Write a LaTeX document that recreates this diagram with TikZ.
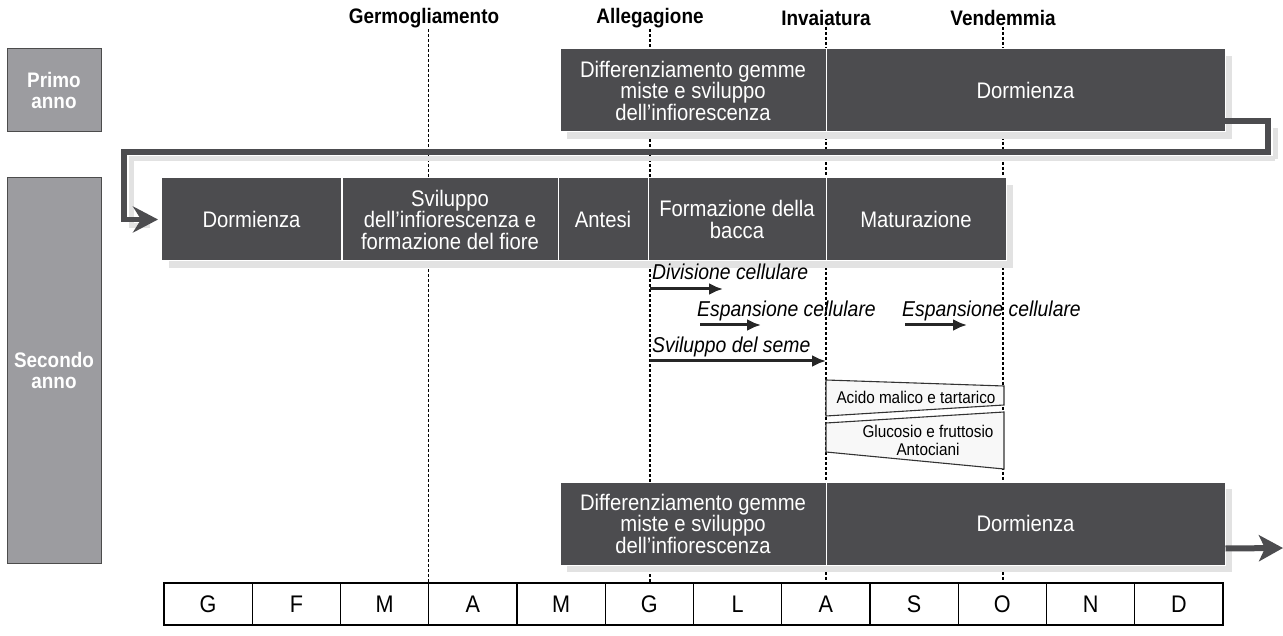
\documentclass[tikz,border=0pt]{standalone}
\usepackage{fontspec}
\setmainfont{Liberation Sans}[FakeStretch=0.9]
\usetikzlibrary{arrows.meta,shadows}
\definecolor{boxdark}{RGB}{76,76,79}
\definecolor{labelgray}{RGB}{156,156,160}
\definecolor{shadowgray}{RGB}{226,226,226}
\definecolor{trapfill}{RGB}{248,248,248}
\begin{document}
\begin{tikzpicture}[x=1pt,y=-1pt,
  darkbox/.style={draw=white, line width=1pt, fill=boxdark, text=white, align=center,
    font=\fontsize{22.5}{21.5}\selectfont, inner sep=2pt,
    drop shadow={shadow xshift=7pt, shadow yshift=-7pt, fill=shadowgray, opacity=1}},
  yearbox/.style={draw=black!70, line width=1pt, fill=labelgray, text=white, align=center,
    font=\bfseries\fontsize{21}{21.5}\selectfont, minimum width=94pt},
  monthcell/.style={draw=black, line width=1.2pt, fill=white, minimum width=88.25pt,
    minimum height=42pt, inner sep=0pt, font=\fontsize{24}{24}\selectfont},
  stagelabel/.style={font=\bfseries\fontsize{21}{21}\selectfont, inner sep=1pt},
  phaseline/.style={draw=black, line width=1.2pt, dash pattern=on 3pt off 2pt},
  itlabel/.style={font=\itshape\fontsize{21.5}{21}\selectfont, inner sep=0pt, anchor=west},
  smallarrow/.style={draw=black!85, line width=3pt, -{Latex[length=14pt,width=12pt]}},
  trapbox/.style={draw=black!80, line width=1.1pt, fill=trapfill},
  traptext/.style={font=\fontsize{17}{18}\selectfont, align=center, inner sep=0pt},
  loopline/.style={draw=boxdark, line width=5.5pt},
  loopshadow/.style={draw=shadowgray, line width=5pt}
]
\useasboundingbox (0,0) rectangle (1283,636);

% stage labels
\node[stagelabel] (germ) at (424,18) {Germogliamento};
\node[stagelabel] (alleg) at (650,18) {Allegagione};
\node[stagelabel] (invai) at (826,18) {Invaiatura};
\node[stagelabel] (vend) at (1003,18) {Vendemmia};

% months
\foreach \m [count=\i from 0] in {G,F,M,A,M,G,L,A,S,O,N,D}
  \node[monthcell] (m\i) at ({164+88.25*\i+44.125},604) {\m};

% dashed phase lines
\draw[phaseline] (germ.south -| m3.north west) -- (m3.north west);
\foreach \s in {alleg,invai,vend}
  \draw[phaseline] (\s.south) -- (\s.south |- m0.north);

% year labels
\node[yearbox, minimum height=83pt] (primo) at (54,90.5) {Primo\\anno};
\node[yearbox, minimum height=385pt] (secondo) at (54,370.5) {Secondo\\anno};

% loop connector (shadow first)
\coordinate (loopstart) at (1225,121);
\coordinate (loopr) at (1268,152);
\coordinate (loopl) at (124,152);
\draw[loopshadow] ([xshift=7pt,yshift=-7pt]loopr) -- ([xshift=7pt,yshift=-7pt]loopl) -- (131,226) -- (150,226);
\draw[loopshadow] ([xshift=7pt,yshift=-7pt]loopr) -- (1275,128);

% first year boxes
\node[darkbox, minimum width=266pt, minimum height=83pt] (p1diff) at (693,90.5)
  {Differenziamento gemme\\miste e sviluppo\\dell'infiorescenza};
\node[darkbox, minimum width=399pt, minimum height=83pt] (p1dorm) at (1025.5,90.5) {Dormienza};

% second year main row
\node[darkbox, minimum width=180pt, minimum height=83pt] (sdorm) at (251.5,219.5) {Dormienza};
\node[darkbox, minimum width=216pt, minimum height=83pt] (ssvil) at (450,219.5)
  {Sviluppo\\dell'infiorescenza e\\formazione del fiore};
\node[darkbox, minimum width=90pt, minimum height=83pt] (sant) at (603,219.5) {Antesi};
\node[darkbox, minimum width=178pt, minimum height=83pt] (sform) at (737,219.5)
  {Formazione della\\bacca};
\node[darkbox, minimum width=180pt, minimum height=83pt] (smat) at (916,219.5) {Maturazione};

\draw[loopline, shorten >=3pt, -{Stealth[length=25pt,width=26pt,inset=8pt]}]
  (loopstart) -| (loopr) -- (loopl) |- (sdorm.west);

% growth arrows
\node[itlabel] (divlab) at (652,272) {Divisione cellulare};
\coordinate (divs) at (650,289); \coordinate (dive) at (723,289);
\draw[smallarrow] (divs) -- (dive);
\node[itlabel] (esp1lab) at (697,311) {Espansione cellulare};
\coordinate (esp1s) at (700,325); \coordinate (esp1e) at (761,325);
\draw[smallarrow] (esp1s) -- (esp1e);
\node[itlabel] (esp2lab) at (902,311) {Espansione cellulare};
\coordinate (esp2s) at (905,325); \coordinate (esp2e) at (967,325);
\draw[smallarrow] (esp2s) -- (esp2e);
\node[itlabel] (semlab) at (652,347) {Sviluppo del seme};
\coordinate (sems) at (650,361); \coordinate (seme) at (826,361);
\draw[smallarrow] (sems) -- (seme);

% trapezoids
\coordinate (a1) at (826,380); \coordinate (a2) at (1004,386);
\coordinate (a3) at (1004,405); \coordinate (a4) at (826,416);
\draw[trapbox] (a1) -- (a2) -- (a3) -- (a4) -- cycle;
\node[traptext] (acido) at (916,397) {Acido malico e tartarico};
\coordinate (g1) at (826,423); \coordinate (g2) at (1004,412);
\coordinate (g3) at (1004,469); \coordinate (g4) at (826,452);
\draw[trapbox] (g1) -- (g2) -- (g3) -- (g4) -- cycle;
\node[traptext] (gluc) at (928,440) {Glucosio e fruttosio\\Antociani};

% next year boxes
\node[darkbox, minimum width=266pt, minimum height=83pt] (bdiff) at (693,523.5)
  {Differenziamento gemme\\miste e sviluppo\\dell'infiorescenza};
\node[darkbox, minimum width=399pt, minimum height=83pt] (bdorm) at (1025.5,523.5) {Dormienza};
\coordinate (bend) at (1283,548);
\draw[loopline, line width=6pt, -{Stealth[length=24pt,width=26pt,inset=6pt]}]
  ([yshift=17pt]bdorm.south east) -- (bend);
\end{tikzpicture}
\end{document}
